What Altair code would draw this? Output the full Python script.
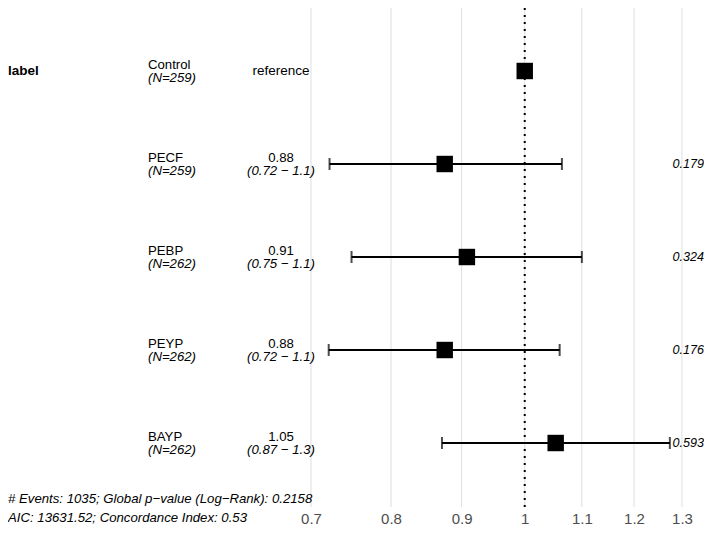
import altair as alt
import pandas as pd

names = ["Control", "PECF", "PEBP", "PEYP", "BAYP"]
ns = [259, 259, 262, 262, 262]
hr = [1.0, 0.875, 0.908, 0.875, 1.053]
lower = [None, 0.722, 0.749, 0.721, 0.871]
upper = [None, 1.064, 1.100, 1.060, 1.274]
hr_text = ["reference", "0.88", "0.91", "0.88", "1.05"]
ci_text = ["", "(0.72 \u2212 1.1)", "(0.75 \u2212 1.1)", "(0.72 \u2212 1.1)", "(0.87 \u2212 1.3)"]
p_text = ["", "0.179", "0.324", "0.176", "0.593"]
x_ticks = [0.7, 0.8, 0.9, 1.0, 1.1, 1.2, 1.3]
ref_value = [1.0]
footer = [
    "# Events: 1035; Global p\u2212value (Log\u2212Rank): 0.2158",
    "AIC: 13631.52; Concordance Index: 0.53",
]

df = pd.DataFrame({
    "row": list(range(len(names))),
    "name": names,
    "n": [f"(N={v})" for v in ns],
    "hr": hr,
    "lower": lower,
    "upper": upper,
    "hr_text": hr_text,
    "ci_text": ci_text,
    "p_text": p_text,
})

FONT = "Liberation Sans"
FS = 13.2
DY = 6.5
W, H = 696, 499

xs = alt.Scale(type="log", domain=[0.4222, 1.3487], nice=False)
ys = alt.Scale(domain=[-0.6774, 4.688], nice=False, zero=False, reverse=True)

base = alt.Chart(df)
Y = alt.Y("row:Q", scale=ys, axis=None)

grid = alt.Chart(pd.DataFrame({"t": x_ticks})).mark_rule(color="#dedede", strokeWidth=1).encode(
    x=alt.X("t:Q", scale=xs,
            axis=alt.Axis(values=x_ticks, title=None, ticks=False, domain=False, grid=False,
                          labelFontSize=15, labelColor="#4d4d4d", labelFont=FONT,
                          labelPadding=4, labelExpr="datum.value == 1 ? '1' : format(datum.value, '.1f')"))
)

ref = alt.Chart(pd.DataFrame({"v": ref_value})).mark_rule(
    color="black", strokeWidth=2, strokeDash=[2, 5]).encode(x=alt.X("v:Q", scale=xs))

ci = base.transform_filter("isValid(datum.lower)").mark_rule(color="black", strokeWidth=2).encode(
    x=alt.X("lower:Q", scale=xs), x2="upper:Q", y=Y)
capl = base.transform_filter("isValid(datum.lower)").mark_tick(
    color="black", orient="vertical", size=12, thickness=2).encode(x=alt.X("lower:Q", scale=xs), y=Y)
capu = base.transform_filter("isValid(datum.lower)").mark_tick(
    color="black", orient="vertical", size=12, thickness=2).encode(x=alt.X("upper:Q", scale=xs), y=Y)
pts = base.mark_square(color="black", size=270, opacity=1).encode(x=alt.X("hr:Q", scale=xs), y=Y)

name_t = base.mark_text(align="left", baseline="middle", dy=-DY, font=FONT, fontSize=FS, color="black").encode(
    x=alt.value(140), y=Y, text="name:N")
n_t = base.mark_text(align="left", baseline="middle", dy=DY, font=FONT, fontSize=FS, fontStyle="italic", color="black").encode(
    x=alt.value(140), y=Y, text="n:N")
ref_t = base.transform_filter("datum.ci_text == ''").mark_text(
    align="center", baseline="middle", font=FONT, fontSize=13.5, color="black").encode(
    x=alt.value(273), y=Y, text="hr_text:N")
hr_t = base.transform_filter("datum.ci_text != ''").mark_text(
    align="center", baseline="middle", dy=-DY, font=FONT, fontSize=FS, color="black").encode(
    x=alt.value(273), y=Y, text="hr_text:N")
ci_t = base.transform_filter("datum.ci_text != ''").mark_text(
    align="center", baseline="middle", dy=DY, font=FONT, fontSize=FS, fontStyle="italic", color="black").encode(
    x=alt.value(273), y=Y, text="ci_text:N")
p_t = base.transform_filter("datum.p_text != ''").mark_text(
    align="right", baseline="middle", font=FONT, fontSize=12.6, fontStyle="italic", color="black").encode(
    x=alt.value(696), y=Y, text="p_text:N")
label_t = base.transform_filter("datum.row == 0").transform_calculate(lab="'label'").mark_text(
    align="left", baseline="middle", font=FONT, fontSize=13.5, fontWeight="bold", color="black").encode(
    x=alt.value(0), y=Y, text="lab:N")

foot_df = pd.DataFrame({"txt": footer, "i": list(range(len(footer)))})
foot = alt.Chart(foot_df).mark_text(
    align="left", baseline="middle", font=FONT, fontSize=13.2, fontStyle="italic", color="black").encode(
    x=alt.value(0),
    y=alt.Y("i:Q", scale=alt.Scale(domain=[0, 1], range=[491, 510], nice=False, zero=False), axis=None),
    text="txt:N")

chart = alt.layer(grid, ref, ci, capl, capu, pts, name_t, n_t, ref_t, hr_t, ci_t, p_t, label_t, foot).resolve_scale(
    y="independent"
).properties(
    width=W, height=H, autosize=alt.AutoSizeParams(type="none"),
    padding={"left": 0, "top": 0, "right": 0, "bottom": 18}
).configure_view(stroke=None)

chart.save("out.html", embed_options={"renderer": "svg", "actions": False})
